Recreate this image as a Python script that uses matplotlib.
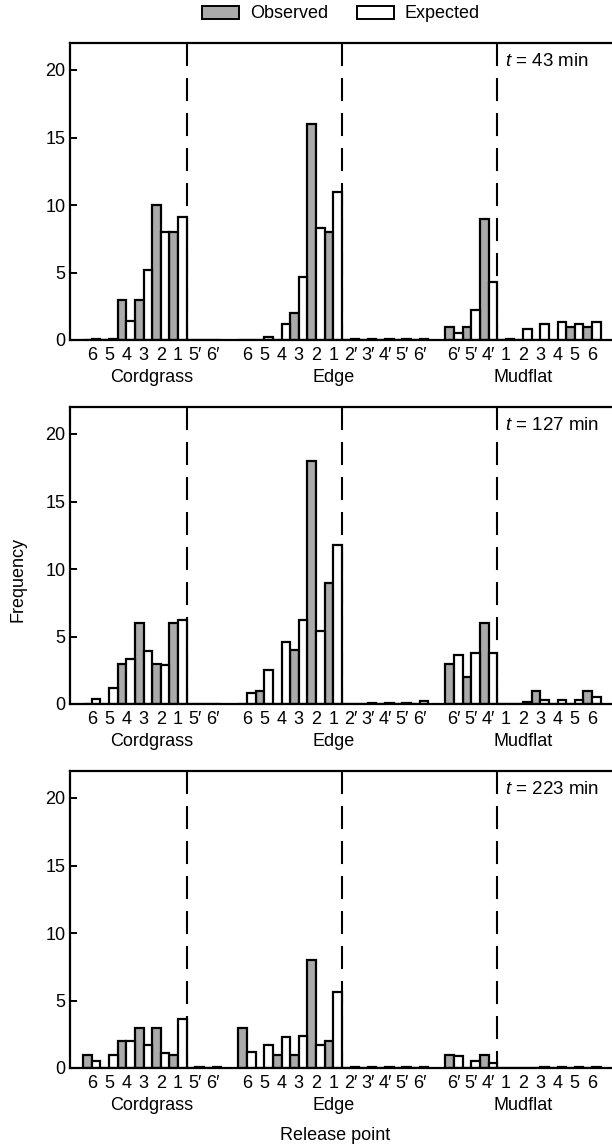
import matplotlib
matplotlib.use('Agg')
import matplotlib.pyplot as plt
import matplotlib.transforms as mtransforms
from matplotlib.patches import Patch

plt.rcParams['font.family'] = ['Liberation Sans', 'DejaVu Sans']
plt.rcParams['mathtext.fontset'] = 'custom'
plt.rcParams['mathtext.it'] = 'Liberation Sans:italic'
plt.rcParams['mathtext.rm'] = 'Liberation Sans'
plt.rcParams['lines.scale_dashes'] = False

# release points per habitat group
groups = ['Cordgrass', 'Edge', 'Mudflat']
cordgrass_pts = ['6', '5', '4', '3', '2', '1', '5′', '6′']
edge_pts = ['6', '5', '4', '3', '2', '1', '2′', '3′', '4′', '5′', '6′']
mudflat_pts = ['6′', '5′', '4′', '1', '2', '3', '4', '5', '6']

times = ['43', '127', '223']

# observed / expected frequencies, (cordgrass, edge, mudflat) for each time
obs_43 = ([0, 0, 3, 3, 10, 8, 0, 0],
          [0, 0, 0, 2, 16, 8, 0, 0, 0, 0, 0],
          [1, 1, 9, 0, 0, 0, 0, 1, 1])
exp_43 = ([0.05, 0.1, 1.4, 5.2, 8.0, 9.1, 0, 0],
          [0, 0.2, 1.2, 4.7, 8.3, 11.0, 0.1, 0.1, 0.1, 0.1, 0.1],
          [0.5, 2.2, 4.3, 0.1, 0.8, 1.2, 1.3, 1.2, 1.3])
obs_127 = ([0, 0, 3, 6, 3, 6, 0, 0],
           [0, 1, 0, 4, 18, 9, 0, 0, 0, 0, 0],
           [3, 2, 6, 0, 0, 1, 0, 0, 1])
exp_127 = ([0.35, 1.2, 3.3, 3.9, 2.9, 6.2, 0, 0],
           [0.8, 2.5, 4.6, 6.2, 5.4, 11.8, 0, 0.1, 0.1, 0.1, 0.2],
           [3.6, 3.8, 3.8, 0, 0.15, 0.3, 0.3, 0.3, 0.5])
obs_223 = ([1, 0, 2, 3, 3, 1, 0, 0],
           [3, 0, 1, 1, 8, 2, 0, 0, 0, 0, 0],
           [1, 0, 1, 0, 0, 0, 0, 0, 0])
exp_223 = ([0.5, 1.0, 2.0, 1.7, 1.1, 3.6, 0.05, 0.05],
           [1.2, 1.7, 2.3, 2.4, 1.7, 5.6, 0.05, 0.05, 0.05, 0.05, 0.1],
           [0.9, 0.5, 0.4, 0, 0, 0.05, 0.05, 0.05, 0.05])

observed = [obs_43, obs_127, obs_223]
expected = [exp_43, exp_127, exp_223]

GRAY = '#aaaaaa'
FS = 13
W, H = 612, 1148

# x positions: one empty slot between groups
pts = [cordgrass_pts, edge_pts, mudflat_pts]
starts = []
s = 0
for p in pts:
    starts.append(s)
    s += len(p) + 1
xpos = [[starts[g] + i for i in range(len(pts[g]))] for g in range(3)]
all_x = [x for xs in xpos for x in xs]
all_lab = [l for p in pts for l in p]
# dividers after the last unprimed "1" / "4′"
dividers = [starts[0] + 5.5, starts[1] + 5.5, starts[2] + 2.5]
centers = [(xs[0] + xs[-1]) / 2 for xs in xpos]

fig = plt.figure(figsize=(W / 100, H / 100), dpi=100)
bottoms = [340, 704, 1068]
ph = 297
left = 69.5

for k in range(3):
    ax = fig.add_axes([left / W, 1 - bottoms[k] / H, (W - left) / W, ph / H])
    for d in dividers:
        ax.plot([d, d], [22, 0], color='black', lw=1.5,
                linestyle=(0, (16.6, 8.6)), zorder=1)
    for g in range(3):
        xs = xpos[g]
        ax.bar([x - 0.25 for x in xs], observed[k][g], width=0.5,
               color=GRAY, edgecolor='black', linewidth=1.6, zorder=2)
        ax.bar([x + 0.25 for x in xs], expected[k][g], width=0.5,
               color='white', edgecolor='black', linewidth=1.6, zorder=2)
    ax.set_xlim(-1.29, -1.29 + (W - left) / 17.25)
    ax.set_ylim(0, 22)
    ax.set_yticks([0, 5, 10, 15, 20])
    ax.set_xticks(all_x)
    ax.set_xticklabels(all_lab)
    ax.tick_params(axis='x', length=0, labelsize=FS, pad=5)
    ax.tick_params(axis='y', direction='in', length=5, width=1.4,
                   labelsize=FS, pad=3)
    ax.spines['right'].set_visible(False)
    for sp in ['left', 'bottom', 'top']:
        ax.spines[sp].set_linewidth(1.6)
    trans = mtransforms.blended_transform_factory(ax.transData, ax.transAxes)
    for g in range(3):
        ax.text(centers[g], -0.125, groups[g], transform=trans,
                ha='center', va='center', fontsize=FS)
    ax.text(23.95, 20.6, r'$t$ = ' + times[k] + ' min', fontsize=FS + 0.5,
            ha='left', va='center')

fig.text(18 / W, 1 - 580 / H, 'Frequency', rotation=90, ha='center',
         va='center', fontsize=FS)
fig.text(335 / W, 1 - 1136 / H, 'Release point', ha='center',
         va='center', fontsize=FS)

handles = [Patch(facecolor=GRAY, edgecolor='black', linewidth=1.4),
           Patch(facecolor='white', edgecolor='black', linewidth=1.4)]
fig.legend(handles, ['Observed', 'Expected'], loc='center',
           bbox_to_anchor=(341 / W, 1 - 14 / H), ncol=2, frameon=False,
           fontsize=FS, handlelength=2.05, handleheight=0.72,
           handletextpad=0.6, columnspacing=1.6)

fig.savefig('out.png', dpi=100)
